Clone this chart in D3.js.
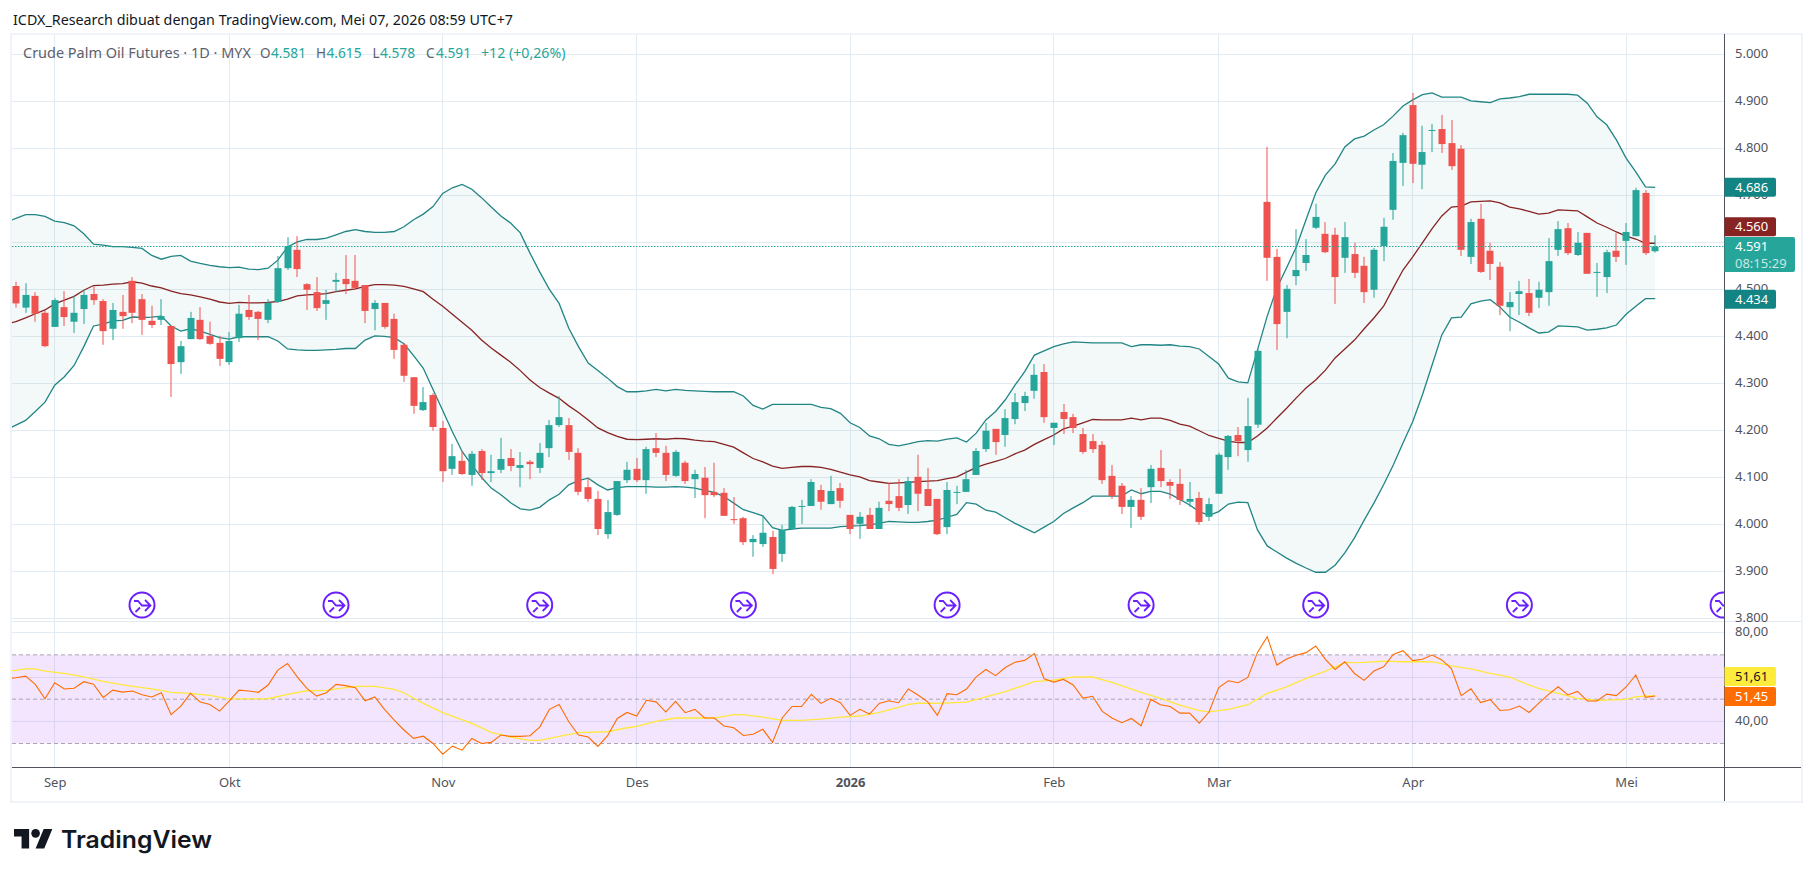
<!DOCTYPE html>
<html>
<head>
<meta charset="utf-8">
<script src="https://cdn.jsdelivr.net/npm/d3@7"></script>
<style>
html, body { margin: 0; padding: 0; background: #fff; }
svg { display: block; }
text { font-family: "Noto Sans", "Open Sans", sans-serif; }
</style>
</head>
<body>
<svg id="chart"></svg>
<script>
// daily candles, prices in ringgit
var opens = [4507,4461,4486,4450,4420,4462,4431,4458,4490,4475,4416,4452,4518,4479,4433,4435,4422,4345,4394,4435,
  4401,4386,4345,4396,4456,4452,4435,4473,4545,4584,4511,4494,4469,4516,4522,4518,4509,4458,4471,4437,
  4382,4313,4243,4275,4205,4118,4135,4105,4156,4109,4116,4141,4120,4133,4120,4162,4211,4211,4152,4079,
  4054,3979,4020,4094,4118,4094,4162,4152,4103,4131,4096,4099,4069,4067,4011,4013,3962,3958,3973,3937,
  3990,4037,4039,4073,4043,4077,4020,4001,4020,3990,4050,4060,4041,4101,4075,4054,3994,4067,4069,4105,
  4160,4203,4190,4224,4258,4284,4324,4205,4239,4228,4192,4177,4169,4103,4082,4037,4052,4079,4120,4090,
  4086,4048,4056,4016,4065,4143,4190,4158,4212,4686,4569,4452,4528,4556,4631,4618,4616,4567,4575,4550,
  4499,4592,4669,4769,4892,4765,4837,4841,4811,4799,4569,4650,4582,4548,4462,4490,4492,4482,4494,4584,
  4630,4573,4620,4535,4526,4582,4603,4613,4705,4581];
var closes = [4470,4488,4448,4379,4477,4441,4450,4488,4477,4411,4456,4443,4450,4435,4424,4443,4341,4379,4439,4394,
  4384,4352,4390,4448,4441,4437,4471,4545,4592,4543,4499,4460,4477,4520,4511,4503,4454,4471,4420,4371,
  4316,4252,4260,4207,4113,4145,4107,4150,4109,4113,4139,4124,4126,4128,4152,4211,4228,4154,4069,4054,
  3990,4026,4092,4116,4094,4160,4152,4105,4154,4092,4107,4062,4062,4018,4009,3962,3969,3982,3905,3988,
  4037,4039,4090,4048,4071,4050,3990,4016,3990,4035,4043,4035,4092,4065,4039,3979,4073,4069,4096,4156,
  4199,4175,4226,4260,4273,4318,4228,4216,4224,4205,4154,4160,4094,4060,4037,4052,4016,4118,4092,4082,
  4052,4054,4005,4043,4148,4188,4177,4209,4369,4567,4426,4501,4541,4573,4654,4579,4526,4611,4535,4494,
  4584,4633,4773,4828,4767,4792,4839,4809,4762,4584,4643,4537,4554,4465,4473,4496,4450,4499,4560,4628,
  4577,4599,4533,4537,4579,4569,4622,4711,4577,4591];
var highs = [4516,4513,4494,4454,4481,4496,4486,4499,4506,4479,4471,4488,4526,4490,4465,4479,4422,4390,4452,4462,
  4431,4401,4409,4467,4488,4454,4479,4571,4611,4613,4513,4526,4499,4535,4573,4573,4509,4477,4471,4448,
  4386,4313,4292,4279,4220,4171,4154,4156,4160,4148,4184,4160,4154,4137,4173,4222,4273,4226,4162,4099,
  4071,4052,4092,4133,4141,4165,4194,4167,4158,4135,4116,4122,4131,4077,4058,4016,3977,4018,3986,3999,
  4039,4052,4096,4084,4103,4088,4020,4026,4035,4048,4088,4096,4101,4148,4120,4054,4090,4082,4116,4162,
  4216,4203,4245,4279,4282,4341,4341,4216,4256,4235,4205,4192,4177,4126,4088,4060,4077,4126,4158,4096,
  4118,4090,4069,4056,4152,4190,4207,4269,4372,4803,4586,4509,4628,4607,4682,4643,4631,4643,4599,4569,
  4588,4652,4790,4833,4918,4848,4852,4871,4860,4807,4650,4682,4599,4558,4494,4518,4522,4516,4609,4645,
  4641,4622,4620,4556,4584,4620,4641,4716,4711,4615];
var lows = [4461,4450,4431,4377,4420,4422,4407,4426,4467,4382,4392,4416,4428,4403,4418,4424,4271,4320,4394,4392,
  4382,4337,4339,4388,4435,4392,4428,4471,4541,4526,4456,4454,4435,4494,4490,4499,4428,4413,4416,4352,
  4303,4235,4241,4199,4090,4105,4105,4082,4094,4090,4109,4113,4079,4096,4109,4143,4207,4137,4062,4048,
  3977,3969,4018,4088,4090,4065,4143,4092,4101,4086,4056,4013,4058,4018,4001,3956,3931,3952,3894,3920,
  3988,4001,4039,4031,4043,4035,3979,3969,3990,3990,4028,4028,4022,4028,4039,3977,3979,4043,4069,4105,
  4154,4148,4165,4213,4241,4267,4216,4169,4192,4194,4150,4152,4086,4054,4022,3992,4009,4045,4079,4054,
  4041,4037,3999,4007,4065,4116,4145,4133,4205,4518,4371,4396,4509,4539,4628,4577,4469,4535,4524,4471,
  4482,4560,4648,4720,4726,4713,4792,4790,4754,4571,4554,4535,4520,4445,4411,4445,4443,4460,4465,4571,
  4573,4571,4533,4484,4492,4558,4552,4613,4573,4578];

// bollinger bands, first value belongs to the bar just left of the visible range
var bbUpper = [4643,4651,4659,4659,4655,4645,4642,4635,4618,4596,4594,4591,4591,4589,4587,4572,4564,4570,4572,4560,
  4555,4551,4548,4546,4547,4543,4542,4545,4562,4590,4601,4606,4606,4609,4616,4623,4627,4623,4621,4621,
  4623,4633,4648,4660,4676,4704,4716,4723,4713,4695,4675,4656,4641,4620,4577,4537,4500,4470,4417,4378,
  4343,4327,4311,4293,4282,4282,4284,4287,4284,4287,4285,4284,4283,4282,4282,4282,4273,4253,4245,4255,
  4255,4255,4255,4255,4249,4246,4236,4216,4206,4188,4182,4170,4167,4171,4176,4178,4177,4181,4184,4175,
  4194,4222,4240,4265,4296,4325,4360,4369,4378,4384,4388,4387,4386,4386,4386,4386,4378,4382,4382,4381,
  4382,4379,4378,4373,4357,4341,4311,4303,4301,4371,4443,4503,4546,4590,4648,4705,4743,4767,4803,4820,
  4826,4839,4850,4869,4890,4903,4914,4918,4909,4909,4909,4901,4899,4897,4905,4907,4910,4915,4915,4915,
  4915,4915,4913,4896,4867,4850,4818,4779,4750,4718,4717];
var bbBasis = [4426,4431,4439,4448,4456,4469,4477,4485,4498,4508,4509,4511,4512,4516,4513,4507,4503,4496,4491,4488,
  4484,4479,4473,4470,4472,4471,4471,4472,4474,4479,4486,4488,4489,4491,4495,4498,4501,4506,4510,4510,
  4509,4506,4501,4495,4479,4464,4447,4430,4413,4392,4375,4360,4345,4327,4307,4291,4279,4268,4252,4238,
  4222,4205,4195,4187,4181,4180,4181,4182,4181,4183,4182,4179,4177,4176,4170,4164,4152,4140,4133,4124,
  4119,4121,4123,4123,4121,4117,4111,4105,4101,4093,4090,4087,4088,4089,4091,4092,4093,4097,4101,4111,
  4121,4128,4134,4140,4150,4158,4170,4180,4190,4203,4209,4216,4223,4222,4222,4222,4226,4222,4226,4226,
  4221,4213,4209,4199,4189,4183,4177,4174,4174,4188,4205,4226,4247,4269,4290,4307,4328,4354,4373,4392,
  4416,4439,4464,4503,4541,4569,4599,4629,4656,4675,4677,4686,4687,4688,4684,4675,4671,4666,4660,4662,
  4669,4668,4667,4654,4641,4632,4622,4613,4607,4598,4598];
var bbLower = [4201,4211,4221,4240,4260,4296,4314,4338,4378,4422,4426,4433,4434,4441,4440,4441,4443,4422,4411,4416,
  4411,4404,4397,4394,4399,4399,4399,4399,4390,4373,4371,4370,4370,4371,4372,4374,4374,4392,4401,4400,
  4397,4384,4359,4332,4287,4242,4197,4155,4126,4100,4077,4063,4046,4033,4030,4036,4052,4064,4084,4093,
  4098,4084,4073,4078,4080,4080,4080,4079,4079,4080,4079,4077,4072,4068,4059,4045,4031,4025,4018,3993,
  3987,3990,3992,3992,3992,3992,3995,3996,3997,3999,4002,4006,4005,4004,4004,4006,4009,4015,4021,4046,
  4043,4030,4026,4014,4002,3992,3982,3994,4006,4023,4035,4046,4060,4060,4060,4060,4073,4065,4070,4070,
  4064,4053,4041,4027,4019,4027,4043,4047,4046,3988,3954,3941,3928,3917,3907,3898,3898,3913,3939,3971,
  4009,4045,4084,4126,4173,4218,4275,4339,4403,4439,4441,4469,4475,4478,4462,4441,4430,4418,4407,4409,
  4422,4421,4420,4413,4415,4418,4424,4447,4464,4480,4480];

// rsi, same leading bar as the bands
var rsi = [59.2,59.7,60.4,56.7,50.2,57.4,54.6,54.9,57.9,56.8,50.8,54.1,53.2,53.7,52.0,51.0,52.9,43.0,46.9,52.6,
  48.7,47.6,44.6,49.2,54.1,53.7,53.1,56.4,63.1,66.1,60.1,54.9,51.4,52.9,56.7,56.1,55.2,49.3,51.0,45.4,
  40.6,36.1,32.3,33.3,30.0,25.2,28.8,27.0,32.3,30.0,30.5,33.8,33.2,33.2,33.5,37.4,45.4,47.6,39.8,33.8,
  32.9,28.7,33.5,41.3,44.0,42.4,49.5,48.8,44.2,49.0,43.9,45.4,41.5,41.5,37.9,37.1,33.6,34.2,36.4,30.5,
  41.5,46.7,46.7,52.2,48.1,50.4,48.4,42.7,45.4,43.3,48.1,49.3,48.4,54.6,51.9,48.8,42.7,52.5,52.0,54.6,
  60.1,63.4,60.6,64.3,66.7,67.5,70.6,59.2,57.7,58.9,56.4,50.5,51.3,44.5,41.5,39.4,41.3,38.0,49.9,47.5,
  46.7,43.7,43.7,39.2,44.2,55.2,58.3,57.4,59.8,71.1,78.2,65.4,68.1,69.8,71.0,74.0,68.0,63.4,66.9,61.6,
  58.5,62.7,64.6,70.2,71.9,67.4,68.0,69.9,67.7,63.7,51.6,54.7,48.5,49.8,44.9,45.2,46.9,44.0,48.2,52.2,
  55.6,51.9,53.5,49.2,49.2,52.3,51.6,55.5,60.9,50.8,51.45];
// rsi moving average, read at the bars where its slope changes
var rsiMaBars = [-1,0,1,2,3,5,7,9,11,13,15,16,18,20,22,24,26,28,30,32,34,35,37,39,40,42,44,47,49,51,53,54,56,58,61,63,64,66,68,72,74,75,77,79,81,83,85,87,89,91,
  92,93,95,98,100,102,105,107,109,111,113,116,118,120,122,123,125,127,129,131,133,135,137,139,141,143,146,148,150,152,154,156,157,159,161,163,166,167,169];
var rsiMa = [62.8,63.0,63.7,63.7,62.7,61.6,60.1,58.0,56.5,55.2,54.0,53.1,52.6,51.7,50.1,50.1,50.2,52.2,53.8,54.0,55.2,55.8,55.8,54.4,52.9,48.1,43.9,39.1,35.0,32.9,31.4,31.4,33.2,34.9,35.3,37.1,37.7,40.0,41.5,41.5,43.0,43.0,41.9,40.4,40.4,41.0,41.9,42.4,44.0,46.3,
  47.6,48.2,48.1,48.7,51.0,53.4,57.9,58.6,60.1,60.0,57.6,53.1,50.4,47.3,44.8,44.3,45.4,47.5,52.6,55.6,59.4,62.7,66.5,66.6,67.2,66.9,66.9,65.0,63.7,61.6,60.0,56.4,54.9,52.6,50.4,49.5,49.9,51.1,51.6];

// axes
var priceTicks = d3.range(3800, 5001, 100);
var rsiGrid = [40, 60, 80];
var rsiLabels = [40, 80];
var rsiDashed = [30, 50, 70];
var monthBars = [4, 22, 44, 64, 86, 107, 124, 144, 166];
var monthLabels = ["Sep", "Okt", "Nov", "Des", "2026", "Feb", "Mar", "Apr", "Mei"];
var eventBars = [13, 33, 54, 75, 96, 116, 134, 155, 176];

// price tags on the right axis: where the tag sits, and what it says
var bandTagPrices = [4717, 4633, 4479];
var bandTagTexts = ["4.686", "4.560", "4.434"];
var bandTagColors = ["#138484", "#872323", "#138484"];
var lastPrice = 4591;
var countdown = "08:15:29";
var rsiTagValues = [60.2, 51.2];
var rsiTagTexts = ["51,61", "51,45"];
var rsiTagColors = ["#ffeb3b", "#ff6d00"];
var rsiTagInk = ["#131722", "#ffffff"];

var UP = "#26a69a", DOWN = "#ef5350", INK = "#50535e", GRID = "#e3ebf2";

function drawChart() {
    var size = { w: 1814, h: 877 };
    var plot = { l: 12, r: 1724, top: 35, sep: 621.5, bottom: 767, right: 1801, base: 802 };
    var svg = d3.select("#chart").attr("width", size.w).attr("height", size.h);

    var x = d3.scaleLinear().domain([0, 169]).range([15.9, 1655.2]);
    var y = d3.scaleLinear().domain([3800, 5000]).range([618.3, 54.3]);
    var yRsi = d3.scaleLinear().domain([30, 80]).range([743.5, 632.7]);
    var lineBars = d3.range(-1, 170);

    svg.append("text").attr("x", 13).attr("y", 25)
        .attr("font-size", 13.5).attr("fill", "#131722")
        .attr("textLength", 500).attr("lengthAdjust", "spacingAndGlyphs")
        .text("ICDX_Research dibuat dengan TradingView.com, Mei 07, 2026 08:59 UTC+7");

    // frame
    svg.append("rect").attr("x", plot.l - 1).attr("y", 34)
        .attr("width", plot.right - plot.l + 2).attr("height", plot.base - 34)
        .attr("fill", "none").attr("stroke", "#f0f3fa").attr("stroke-width", 2);

    var defs = svg.append("defs");
    defs.append("clipPath").attr("id", "clipMain").append("rect")
        .attr("x", plot.l).attr("y", plot.top).attr("width", plot.r - plot.l).attr("height", plot.sep - plot.top);
    defs.append("clipPath").attr("id", "clipRsi").append("rect")
        .attr("x", plot.l).attr("y", plot.sep).attr("width", plot.r - plot.l).attr("height", plot.bottom - plot.sep);

    // grid
    var grid = svg.append("g").attr("stroke", GRID).attr("stroke-width", 1).attr("shape-rendering", "crispEdges");
    grid.selectAll("line.v").data(monthBars).enter().append("line").attr("class", "v")
        .attr("x1", d => x(d)).attr("x2", d => x(d)).attr("y1", plot.top).attr("y2", plot.bottom);
    grid.selectAll("line.p").data(priceTicks).enter().append("line").attr("class", "p")
        .attr("x1", plot.l).attr("x2", plot.r).attr("y1", d => y(d)).attr("y2", d => y(d));
    grid.selectAll("line.r").data(rsiGrid).enter().append("line").attr("class", "r")
        .attr("x1", plot.l).attr("x2", plot.r).attr("y1", d => yRsi(d)).attr("y2", d => yRsi(d));
    grid.append("line").attr("x1", plot.l).attr("x2", plot.right).attr("y1", plot.sep).attr("y2", plot.sep);

    // main pane
    var main = svg.append("g").attr("clip-path", "url(#clipMain)");
    var bandArea = d3.area().x((d, i) => x(lineBars[i])).y0((d, i) => y(bbLower[i])).y1(d => y(d));
    main.append("path").datum(bbUpper).attr("d", bandArea).attr("fill", "#137a7f").attr("fill-opacity", 0.05);

    var bandLine = d3.line().x((d, i) => x(lineBars[i])).y(d => y(d));
    [[bbUpper, "#218585"], [bbLower, "#218585"], [bbBasis, "#872323"]].forEach(b => {
        main.append("path").datum(b[0]).attr("d", bandLine)
            .attr("fill", "none").attr("stroke", b[1]).attr("stroke-width", 1.3);
    });

    var bars = d3.range(opens.length);
    var color = i => closes[i] >= opens[i] ? UP : DOWN;
    var px = i => Math.round(x(i));
    main.selectAll("rect.wick").data(bars).enter().append("rect").attr("class", "wick")
        .attr("x", i => px(i) - 0.5).attr("width", 1)
        .attr("y", i => y(highs[i])).attr("height", i => y(lows[i]) - y(highs[i]))
        .attr("fill", color);
    main.selectAll("rect.body").data(bars).enter().append("rect").attr("class", "body")
        .attr("x", i => px(i) - 3.5).attr("width", 7)
        .attr("y", i => y(Math.max(opens[i], closes[i])))
        .attr("height", i => Math.max(1, Math.abs(y(opens[i]) - y(closes[i]))))
        .attr("fill", color);

    main.append("line").attr("x1", plot.l).attr("x2", plot.r)
        .attr("y1", y(lastPrice)).attr("y2", y(lastPrice))
        .attr("stroke", UP).attr("stroke-width", 1).attr("stroke-dasharray", "1.5 1.5");

    // event markers
    var ev = main.selectAll("g.ev").data(eventBars).enter().append("g").attr("class", "ev")
        .attr("transform", d => "translate(" + x(d) + ",605)")
        .attr("fill", "none").attr("stroke", "#6a1fff").attr("stroke-width", 2);
    ev.append("circle").attr("r", 12.5).attr("fill", "#fff");
    ev.append("path").attr("d", "M-8,-4H-4L0,0.5H8M3,-5L8.5,0.5L3,6M-6.5,7L-2,2.5").attr("stroke-width", 1.8);

    // rsi pane
    var rsiPane = svg.append("g").attr("clip-path", "url(#clipRsi)");
    rsiPane.append("rect").attr("x", plot.l).attr("width", plot.r - plot.l)
        .attr("y", yRsi(70)).attr("height", yRsi(30) - yRsi(70))
        .attr("fill", "rgb(156,39,240)").attr("fill-opacity", 0.12);
    rsiPane.selectAll("line.dash").data(rsiDashed).enter().append("line").attr("class", "dash")
        .attr("x1", plot.l).attr("x2", plot.r).attr("y1", d => yRsi(d)).attr("y2", d => yRsi(d))
        .attr("stroke", "#a9a7b0").attr("stroke-dasharray", "4 3");
    rsiPane.append("path")
        .datum(rsiMa)
        .attr("d", d3.line().x((d, i) => x(rsiMaBars[i])).y(d => yRsi(d)))
        .attr("fill", "none").attr("stroke", "#ffe83b").attr("stroke-width", 1.3);
    rsiPane.append("path")
        .datum(rsi)
        .attr("d", d3.line().x((d, i) => x(lineBars[i])).y(d => yRsi(d)))
        .attr("fill", "none").attr("stroke", "#ff6d00").attr("stroke-width", 1.1);

    // axis lines
    svg.append("line").attr("x1", plot.r + 0.5).attr("x2", plot.r + 0.5).attr("y1", plot.top - 1).attr("y2", plot.base - 1)
        .attr("stroke", INK).attr("stroke-width", 1);
    svg.append("line").attr("x1", plot.l).attr("x2", plot.right).attr("y1", plot.bottom + 0.5).attr("y2", plot.bottom + 0.5)
        .attr("stroke", INK).attr("stroke-width", 1);

    // axes
    var axisStyle = g => {
        g.select(".domain").remove();
        g.selectAll("line").remove();
        g.selectAll("text").attr("font-family", '"Noto Sans", sans-serif').attr("font-size", 13).attr("fill", INK);
    };
    svg.append("g").attr("transform", "translate(" + plot.r + ",-1)")
        .call(d3.axisRight(y).tickValues(priceTicks).tickSize(0).tickPadding(11)
            .tickFormat(d => (d / 1000).toFixed(3)))
        .call(axisStyle);
    svg.append("g").attr("transform", "translate(" + plot.r + ",-1.5)")
        .call(d3.axisRight(yRsi).tickValues(rsiLabels).tickSize(0).tickPadding(11)
            .tickFormat(d => d.toFixed(2).replace(".", ",")))
        .call(axisStyle);
    svg.append("g").attr("transform", "translate(0," + plot.bottom + ")")
        .call(d3.axisBottom(x).tickValues(monthBars).tickSize(0).tickPadding(11)
            .tickFormat((d, i) => monthLabels[i]))
        .call(axisStyle)
        .selectAll("text").attr("font-weight", (d, i) => monthLabels[i] == "2026" ? 700 : 400);

    // tags on the right axis
    function tag(cy, w, h, fill) {
        return svg.append("path")
            .attr("d", "M" + (plot.r + 0.5) + "," + (cy - h / 2) + "H" + (plot.r + w - 2)
                + "q2,0 2,2V" + (cy + h / 2 - 2) + "q0,2 -2,2H" + (plot.r + 0.5) + "Z")
            .attr("fill", fill);
    }
    function tagText(cy, str, fill, opacity) {
        svg.append("text").attr("x", plot.r + 11).attr("y", cy).attr("dy", "0.35em")
            .attr("font-size", 13).attr("fill", fill).attr("fill-opacity", opacity || 1).text(str);
    }
    bandTagPrices.forEach((p, i) => {
        tag(y(p), 52, 19, bandTagColors[i]);
        tagText(y(p), bandTagTexts[i], "#fff");
    });
    tag(254.5, 71, 35, UP);
    tagText(246, (lastPrice / 1000).toFixed(3), "#fff");
    tagText(263, countdown, "#fff", 0.75);
    rsiTagValues.forEach((v, i) => {
        tag(yRsi(v), 52, 19, rsiTagColors[i]);
        tagText(yRsi(v), rsiTagTexts[i], rsiTagInk[i]);
    });

    // legend
    var legend = svg.append("g").attr("font-size", 13.5);
    var legendGrey = "#5d606b";
    [["Crude Palm Oil Futures · 1D · MYX", 23, legendGrey, 228], ["O", 260, legendGrey], ["4.581", 271, UP, 35],
     ["H", 316, legendGrey], ["4.615", 326.5, UP, 35], ["L", 372.5, legendGrey], ["4.578", 380, UP, 35],
     ["C", 426, legendGrey], ["4.591", 436, UP, 35], ["+12 (+0,26%)", 481, UP, 84.5]].forEach(t => {
        var el = legend.append("text").attr("x", t[1]).attr("y", 58).attr("fill", t[2]).text(t[0]);
        if (t[3]) el.attr("textLength", t[3]).attr("lengthAdjust", "spacingAndGlyphs");
    });

    // logo
    var logo = svg.append("g").attr("transform", "translate(14,824.7) scale(1.08)").attr("fill", "#131722");
    logo.append("path").attr("d", "M14 22H7V11H0V4h14v18zM28 22h-8l7.5-18h8L28 22z");
    logo.append("circle").attr("cx", 20).attr("cy", 8).attr("r", 4);
    svg.append("text").attr("x", 61).attr("y", 848)
        .style("font-family", "Inter, 'Noto Sans', sans-serif")
        .attr("font-size", 24).attr("font-weight", 600).attr("fill", "#131722")
        .attr("textLength", 151).attr("lengthAdjust", "spacingAndGlyphs").text("TradingView");
}

drawChart();
</script>
</body>
</html>
